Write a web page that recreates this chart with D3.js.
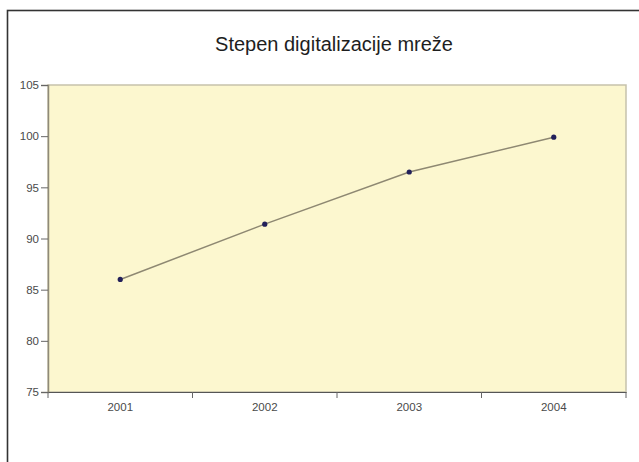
<!DOCTYPE html>
<html>
<head>
<meta charset="utf-8">
<script src="https://cdn.jsdelivr.net/npm/d3@7"></script>
<style>
  body { margin: 0; background: #fff; }
  svg { display: block; font-family: "Liberation Sans", Arial, sans-serif; }
</style>
</head>
<body>
<div id="chart"></div>
<script>
// chart data
const title = 'Stepen digitalizacije mreže';
const years = ['2001', '2002', '2003', '2004'];
const values = [86.0, 91.4, 96.5, 99.9];
const yTicks = [75, 80, 85, 90, 95, 100, 105];

const width = 639, height = 462;
const plot = {left: 48, right: 626, top: 85, bottom: 392};

const svg = d3.select('#chart').append('svg')
    .attr('width', width).attr('height', height);

// outer frame (only left and top visible in the crop)
svg.append('rect')
    .attr('x', 7.5).attr('y', 10.5)
    .attr('width', 640).attr('height', 460)
    .attr('fill', 'none').attr('stroke', '#333').attr('stroke-width', 1.6);

svg.append('text')
    .attr('x', 334).attr('y', 51)
    .attr('text-anchor', 'middle')
    .attr('font-size', 20).attr('fill', '#1e1e1e')
    .text(title);

const x = d3.scaleBand().domain(years).range([plot.left, plot.right]).padding(0);
const y = d3.scaleLinear().domain([75, 105]).range([plot.bottom, plot.top]);

// plot area
svg.append('rect')
    .attr('x', plot.left).attr('y', plot.top)
    .attr('width', plot.right - plot.left).attr('height', plot.bottom - plot.top)
    .attr('fill', '#fcf7cf').attr('stroke', '#c6c2ac').attr('stroke-width', 1.5);

// y axis
const yAxis = svg.append('g')
    .attr('transform', `translate(${plot.left},0)`)
    .call(d3.axisLeft(y).tickValues(yTicks).tickSize(7).tickPadding(2));
yAxis.select('.domain').attr('stroke', '#8f8a78').attr('stroke-width', 1.5);
yAxis.selectAll('.tick line').attr('stroke', '#666');
yAxis.selectAll('text').attr('font-size', 11.5).attr('fill', '#4a4a4a')
    .attr('font-family', '"Liberation Sans", Arial, sans-serif');

// x axis: labels centred in bands, ticks on band edges
const xAxis = svg.append('g')
    .attr('transform', `translate(0,${plot.bottom})`)
    .call(d3.axisBottom(x).tickSize(0).tickPadding(11));
xAxis.select('.domain').attr('stroke', '#555').attr('stroke-width', 1.2);
xAxis.selectAll('text').attr('font-size', 11.5).attr('fill', '#4a4a4a')
    .attr('font-family', '"Liberation Sans", Arial, sans-serif');

const edges = years.map(d => x(d)).concat([x.range()[1]]);
xAxis.selectAll('.edge').data(edges).enter().append('line')
    .attr('class', 'edge')
    .attr('x1', d => d).attr('x2', d => d)
    .attr('y1', 0).attr('y2', 6)
    .attr('stroke', '#666');

// series line
const line = d3.line()
    .x((d, i) => x(years[i]) + x.bandwidth() / 2)
    .y(d => y(d));

svg.append('path')
    .datum(values)
    .attr('d', line)
    .attr('fill', 'none')
    .attr('stroke', '#8e8872')
    .attr('stroke-width', 1.5);

svg.selectAll('.dot')
    .data(values).enter().append('circle')
    .attr('class', 'dot')
    .attr('cx', (d, i) => x(years[i]) + x.bandwidth() / 2)
    .attr('cy', d => y(d))
    .attr('r', 2.6)
    .attr('fill', '#22205a');
</script>
</body>
</html>
